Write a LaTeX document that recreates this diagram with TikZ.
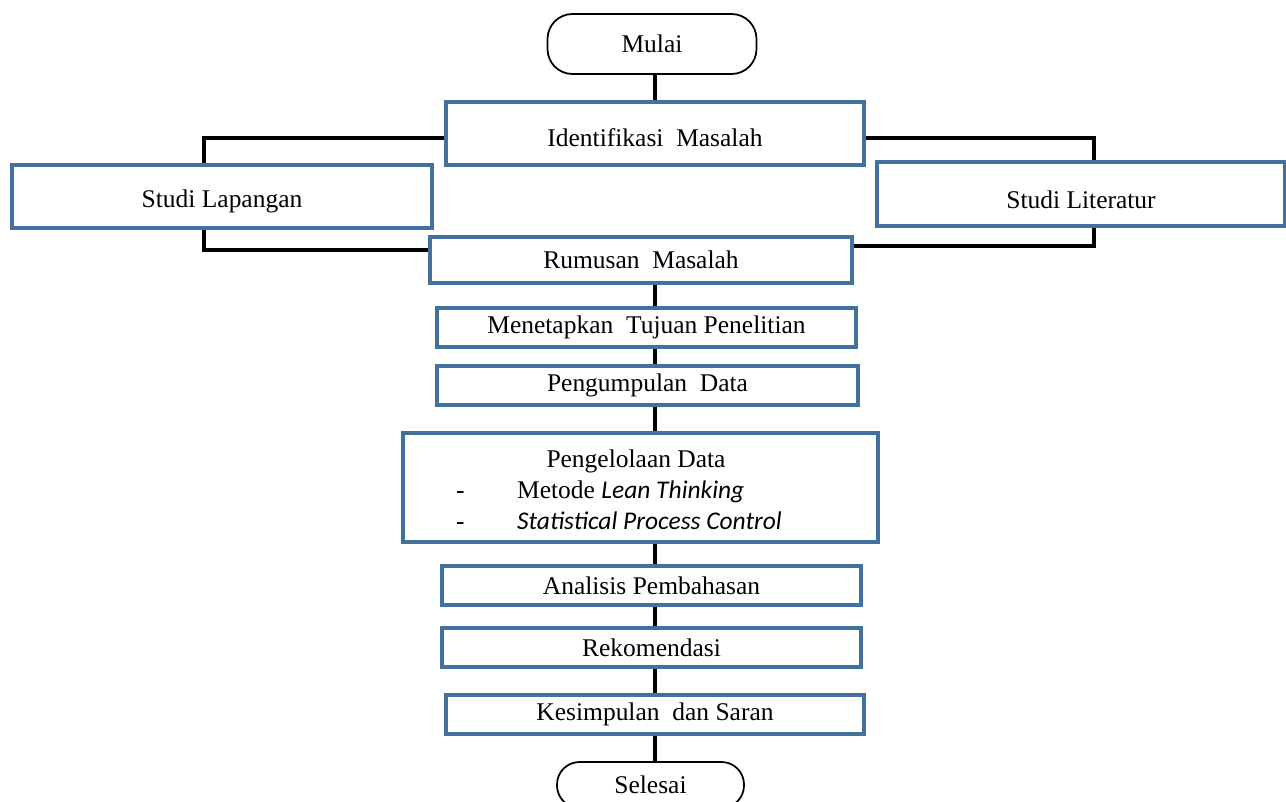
\documentclass[tikz,border=0pt]{standalone}
\usepackage{fontspec}
\setmainfont{Liberation Serif}
\newfontfamily\calibrish{Carlito}
\usetikzlibrary{shapes,arrows,positioning,calc}
\definecolor{boxblue}{RGB}{65,113,156}
\tikzstyle{box} = [draw=boxblue, line width=2pt, fill=white, minimum height=0.78cm, inner sep=2pt]
\tikzstyle{term} = [draw, line width=1pt, fill=white, rounded corners=0.5cm, inner sep=2pt]
\tikzstyle{link} = [draw, line width=2pt]
\newcommand{\itword}[1]{{\calibrish\itshape #1}}
\newcommand{\dropby}[2]{\raisebox{-#1}[\height][\depth]{#2}}

\begin{document}
\begin{tikzpicture}[font=\fontsize{14.5}{17.6}\selectfont]
      \clip (0,0) rectangle (25.72,-16.02);
      \coordinate (spine) at (13.1,0);
      \node[term, minimum width=4.18cm, minimum height=1.2cm] (mulai) at (13.04,-0.88) {Mulai};
      \node[box, minimum width=8.36cm, minimum height=1.26cm] (ident) at (13.1,-2.67) {\dropby{0.08cm}{Identifikasi\ \ Masalah}};
      \node[box, minimum width=8.4cm, minimum height=1.26cm] (lap) at (4.44,-3.93) {\dropby{0.1cm}{Studi\ Lapangan}};
      \node[box, minimum width=8.16cm, minimum height=1.28cm] (lit) at (21.62,-3.88) {\dropby{0.12cm}{Studi Literatur}};
      \node[box, minimum width=8.44cm, minimum height=0.92cm] (rumus) at (12.82,-5.2) {Rumusan\ \ Masalah};
      \node[box, minimum width=8.38cm] (tujuan) at (12.93,-6.55) {Menetapkan\ \ Tujuan\ Penelitian};
      \node[box, minimum width=8.42cm] (kumpul) at (12.95,-7.71) {Pengumpulan\ \ Data};
      \node[box, minimum width=9.5cm, minimum height=2.18cm] (olah) at (12.81,-9.75) {%
        \dropby{0.1cm}{\begin{tabular}{@{}l@{\hspace{1.05cm}}l@{}}
          \multicolumn{2}{c}{\hspace{0.68cm}Pengelolaan Data}\\
          - & Metode \itword{Lean Thinking}\\
          - & \itword{Statistical Process Control}
        \end{tabular}}\rule{0.86cm}{0pt}};
      \node[box, minimum width=8.38cm] (analisis) at (13.03,-11.71) {Analisis Pembahasan};
      \node[box, minimum width=8.38cm] (rekom) at (13.03,-12.95) {Rekomendasi};
      \node[box, minimum width=8.36cm] (simpul) at (13.1,-14.29) {Kesimpulan\ \ dan Saran};
      \node[term, minimum width=3.74cm, minimum height=0.92cm, rounded corners=0.45cm] (selesai) at (13.01,-15.7) {Selesai};
      \draw[link] (spine |- mulai.south) -- (spine |- ident.north);
      \draw[link] ([yshift=-0.09cm]ident.west) -| ([xshift=-0.36cm]lap.north);
      \draw[link] ([yshift=-0.09cm]ident.east) -| ([xshift=0.26cm]lit.north);
      \draw[link] ([xshift=-0.36cm]lap.south) |- ([yshift=0.2cm]rumus.west);
      \draw[link] ([xshift=0.26cm]lit.south) |- ([yshift=0.28cm]rumus.east);
      \draw[link] (spine |- rumus.south) -- (spine |- tujuan.north);
      \draw[link] (spine |- tujuan.south) -- (spine |- kumpul.north);
      \draw[link] (spine |- kumpul.south) -- (spine |- olah.north);
      \draw[link] (spine |- olah.south) -- (spine |- analisis.north);
      \draw[link] (spine |- analisis.south) -- (spine |- rekom.north);
      \draw[link] (spine |- rekom.south) -- (spine |- simpul.north);
      \draw[link] (spine |- simpul.south) -- (spine |- selesai.north);
\end{tikzpicture}
\end{document}
